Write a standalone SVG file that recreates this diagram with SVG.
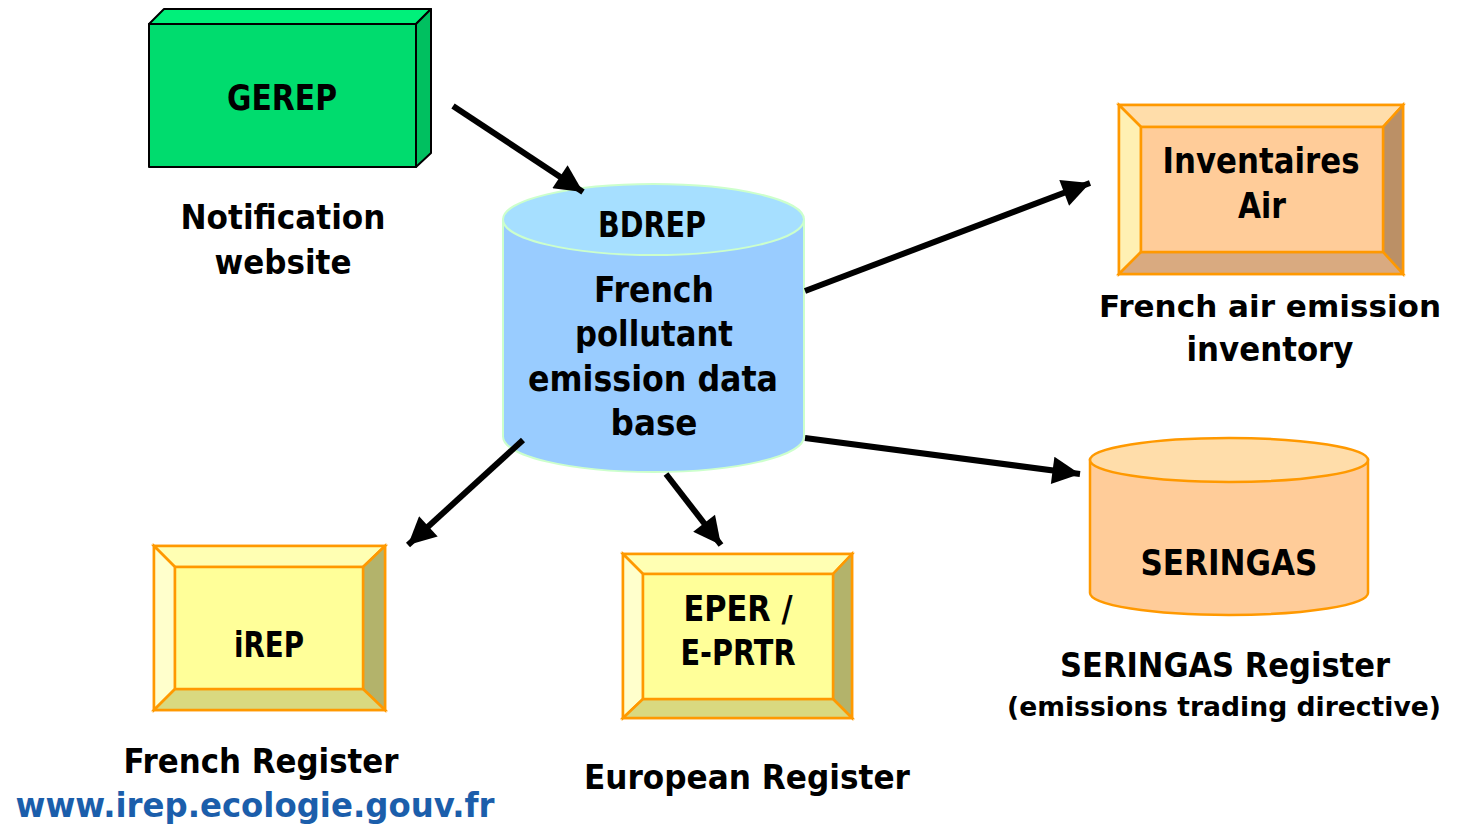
<svg xmlns="http://www.w3.org/2000/svg" width="1461" height="826" viewBox="0 0 1461 826">
<defs>
<style>
text{font-family:"DejaVu Sans","Liberation Sans",sans-serif;font-weight:bold;fill:#000;text-anchor:middle}
.n{font-size:36px}
.l{font-size:34px}
.m{font-size:31px}
.s{font-size:27px}
.url{fill:#1B5EAB}
.gs{stroke:#000;stroke-width:2;stroke-linejoin:round}
.bv{stroke:#FF9900;stroke-width:2.5;stroke-linejoin:miter}
.conn{stroke:#000;stroke-width:6;fill:none;marker-end:url(#ah)}
</style>
<marker id="ah" viewBox="0 0 10 10" refX="10" refY="5" markerWidth="5" markerHeight="4.6" orient="auto" markerUnits="strokeWidth">
<path d="M0,0 L10,5 L0,10 Z" fill="#000"/>
</marker>
</defs>
<rect width="1461" height="826" fill="#fff"/>

<g id="gerep">
<polygon class="gs" points="149,24 164,9 431,9 416,24" fill="#00F07A"/>
<polygon class="gs" points="416,24 431,9 431,153 416,167" fill="#00C060"/>
<rect class="gs" x="149" y="24" width="267" height="143" fill="#00DC6E"/>
<text class="n" x="282" y="110" textLength="110" lengthAdjust="spacingAndGlyphs">GEREP</text>
<text class="l" x="283" y="229" textLength="205" lengthAdjust="spacingAndGlyphs">Notification</text>
<text class="l" x="283" y="274" textLength="137" lengthAdjust="spacingAndGlyphs">website</text>
</g>

<g id="bdrep">
<path d="M503,219.5 L503,436.5 A150.5,35.5 0 0 0 804,436.5 L804,219.5 Z" fill="#99CCFF" stroke="#CCFFCC" stroke-width="2"/>
<ellipse cx="653.5" cy="219.5" rx="150.5" ry="35.5" fill="#A6DFFF" stroke="#CCFFCC" stroke-width="2"/>
<text class="n" x="652" y="237" textLength="108" lengthAdjust="spacingAndGlyphs">BDREP</text>
<text class="n" x="654" y="302" textLength="120" lengthAdjust="spacingAndGlyphs">French</text>
<text class="n" x="654" y="346" textLength="158" lengthAdjust="spacingAndGlyphs">pollutant</text>
<text class="n" x="653" y="391" textLength="250" lengthAdjust="spacingAndGlyphs">emission data</text>
<text class="n" x="654" y="435" textLength="87" lengthAdjust="spacingAndGlyphs">base</text>
</g>

<g id="inventaires">
<rect class="bv" x="1119" y="105" width="284" height="169" fill="#FFCC99"/>
<polygon class="bv" points="1119,105 1403,105 1383,127 1141,127" fill="#FFDDAA"/>
<polygon class="bv" points="1119,105 1141,127 1141,252 1119,274" fill="#FFF0B3"/>
<polygon class="bv" points="1403,105 1403,274 1383,252 1383,127" fill="#BB9066"/>
<polygon class="bv" points="1119,274 1141,252 1383,252 1403,274" fill="#D9AA80"/>
<rect class="bv" x="1141" y="127" width="242" height="125" fill="#FFCC99"/>
<text class="n" x="1261" y="173" textLength="197" lengthAdjust="spacingAndGlyphs">Inventaires</text>
<text class="n" x="1262" y="218" textLength="48" lengthAdjust="spacingAndGlyphs">Air</text>
<text class="m" x="1270" y="317" textLength="342" lengthAdjust="spacingAndGlyphs">French air emission</text>
<text class="l" x="1270" y="361" textLength="167" lengthAdjust="spacingAndGlyphs">inventory</text>
</g>

<g id="irep">
<rect class="bv" x="154" y="546" width="231" height="164" fill="#FFFF99"/>
<polygon class="bv" points="154,546 385,546 363,567 175,567" fill="#FFFFB3"/>
<polygon class="bv" points="154,546 175,567 175,689 154,710" fill="#FFFFCC"/>
<polygon class="bv" points="385,546 385,710 363,689 363,567" fill="#B3B36B"/>
<polygon class="bv" points="154,710 175,689 363,689 385,710" fill="#D9D980"/>
<rect class="bv" x="175" y="567" width="188" height="122" fill="#FFFF99"/>
<text class="n" x="269" y="657" textLength="70" lengthAdjust="spacingAndGlyphs">iREP</text>
<text class="l" x="261" y="773" textLength="275" lengthAdjust="spacingAndGlyphs">French Register</text>
<text class="l url" x="255" y="817" textLength="479" lengthAdjust="spacingAndGlyphs">www.irep.ecologie.gouv.fr</text>
</g>

<g id="eper">
<rect class="bv" x="623" y="554" width="229" height="164" fill="#FFFF99"/>
<polygon class="bv" points="623,554 852,554 833,574 643,574" fill="#FFFFB3"/>
<polygon class="bv" points="623,554 643,574 643,699 623,718" fill="#FFFFCC"/>
<polygon class="bv" points="852,554 852,718 833,699 833,574" fill="#B3B36B"/>
<polygon class="bv" points="623,718 643,699 833,699 852,718" fill="#D9D980"/>
<rect class="bv" x="643" y="574" width="190" height="125" fill="#FFFF99"/>
<text class="n" x="738" y="621" textLength="109" lengthAdjust="spacingAndGlyphs">EPER /</text>
<text class="n" x="738" y="665" textLength="115" lengthAdjust="spacingAndGlyphs">E-PRTR</text>
<text class="l" x="747" y="789" textLength="326" lengthAdjust="spacingAndGlyphs">European Register</text>
</g>

<g id="seringas">
<path d="M1090,460 L1090,593 A139,22 0 0 0 1368,593 L1368,460 Z" fill="#FFCC99" stroke="#FF9900" stroke-width="2.5"/>
<ellipse cx="1229" cy="460" rx="139" ry="22" fill="#FFDDAA" stroke="#FF9900" stroke-width="2.5"/>
<text class="n" x="1229" y="575" textLength="177" lengthAdjust="spacingAndGlyphs">SERINGAS</text>
<text class="l" x="1225" y="677" textLength="330" lengthAdjust="spacingAndGlyphs">SERINGAS Register</text>
<text class="s" x="1224" y="716" textLength="434" lengthAdjust="spacingAndGlyphs">(emissions trading directive)</text>
</g>

<g id="connectors">
<line class="conn" x1="453" y1="106" x2="583" y2="192"/>
<line class="conn" x1="805" y1="291" x2="1090" y2="183"/>
<line class="conn" x1="805" y1="438" x2="1080" y2="474"/>
<line class="conn" x1="523" y1="440" x2="408" y2="545"/>
<line class="conn" x1="666" y1="474" x2="721" y2="545"/>
</g>
</svg>
